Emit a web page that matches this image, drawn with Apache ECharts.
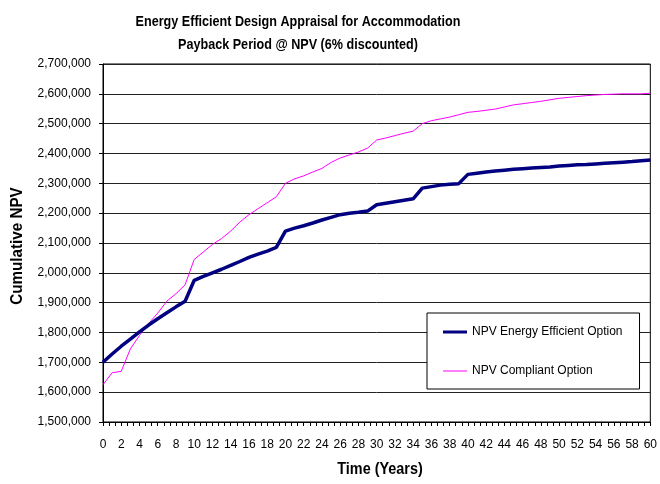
<!DOCTYPE html>
<html>
<head>
<meta charset="utf-8">
<script src="https://cdn.jsdelivr.net/npm/echarts@6/dist/echarts.min.js"></script>
<style>
	html, body { margin: 0; padding: 0; background: #fff; }
	#chart { width: 660px; height: 484px; }
</style>
</head>
<body>
<div id="chart"></div>
<script>
// years 0..60
var years = [];
for (let i = 0; i <= 60; i++) years.push(i);

// cumulative NPV, energy efficient option
var npvEfficient = [
	1700000, 1728000, 1754000, 1778000, 1802000, 1825000, 1846000, 1866000, 1886000, 1905000,
	1975000, 1988000, 2000000, 2012000, 2025000, 2038000, 2052000, 2063000, 2073000, 2085000,
	2140000, 2150000, 2158000, 2167000, 2177000, 2186000, 2195000, 2200000, 2203000, 2207000,
	2228000, 2233000, 2238000, 2243000, 2248000, 2284000, 2289000, 2294000, 2297000, 2299000,
	2330000, 2334000, 2338000, 2341000, 2344000, 2347000, 2349000, 2351000, 2353000, 2355000,
	2358000, 2360000, 2362000, 2363000, 2365000, 2367000, 2369000, 2371000, 2373000, 2376000,
	2378000
];

// cumulative NPV, compliant option
var npvCompliant = [
	1625000, 1665000, 1670000, 1745000, 1790000, 1830000, 1865000, 1905000, 1930000, 1960000,
	2045000, 2070000, 2095000, 2115000, 2140000, 2170000, 2195000, 2215000, 2235000, 2255000,
	2300000, 2315000, 2325000, 2338000, 2350000, 2370000, 2385000, 2395000, 2405000, 2418000,
	2445000, 2452000, 2460000, 2468000, 2475000, 2500000, 2510000, 2516000, 2522000, 2530000,
	2538000, 2541000, 2545000, 2549000, 2556000, 2563000, 2567000, 2571000, 2575000, 2580000,
	2585000, 2588000, 2591000, 2594000, 2596000, 2598000, 2599000, 2600000, 2600000, 2600000,
	2602000
];

var seriesNames = ['NPV Energy Efficient Option', 'NPV Compliant Option'];
var titleLines = ['Energy Efficient Design Appraisal for Accommodation', 'Payback Period @ NPV (6% discounted)'];

function pairs(vals) {
	let out = [];
	for (let i = 0; i < years.length; i++) out.push([years[i], vals[i]]);
	return out;
}

var plain = '"Liberation Sans", Arial, sans-serif';

let chartDom = document.getElementById('chart');
let myChart = echarts.init(chartDom);
let option = {
	backgroundColor: '#fff',
	animation: false,
	grid: {
		left: 103,
		right: 2,
		top: 64,
		bottom: 62,
		show: true,
		borderColor: '#000',
		borderWidth: 1
	},
	legend: {
		orient: 'vertical',
		left: 427,
		top: 313,
		data: [{
				name: seriesNames[0],
				icon: 'path://M0,0 L24,0 L24,3 L0,3 Z'
			},
			{
				name: seriesNames[1],
				icon: 'path://M0,0 L24,0 L24,1 L0,1 Z'
			}
		],
		itemWidth: 24,
		itemHeight: 14,
		itemGap: 27,
		padding: [13, 17, 12, 16],
		backgroundColor: '#fff',
		borderColor: '#000',
		borderWidth: 1,
		textStyle: {
			fontFamily: plain,
			fontSize: 12,
			color: '#000'
		}
	},
	xAxis: {
		type: 'value',
		min: 0,
		max: 60,
		interval: 2,
		axisLine: { lineStyle: { color: '#000', width: 1 } },
		axisTick: { show: true, inside: false, length: 4, lineStyle: { color: '#000' } },
		minorTick: { show: true, splitNumber: 3, length: 4, lineStyle: { color: '#000' } },
		axisLabel: {
			margin: 17,
			fontFamily: plain,
			fontSize: 12,
			color: '#000'
		},
		splitLine: { show: false }
	},
	yAxis: {
		type: 'value',
		min: 1500000,
		max: 2700000,
		interval: 100000,
		axisLine: { show: true, lineStyle: { color: '#000', width: 1 } },
		axisTick: { show: true, inside: false, length: 4, lineStyle: { color: '#000' } },
		axisLabel: {
			margin: 12,
			fontFamily: plain,
			fontSize: 12,
			color: '#000',
			formatter: function(v) {
				return v.toString().replace(/\B(?=(\d{3})+(?!\d))/g, ',');
			}
		},
		splitLine: { show: true, lineStyle: { color: '#222', width: 1 } }
	},
	graphic: [{
			// title, squeezed to look like the narrow bold face
			type: 'text',
			x: 298,
			y: 10,
			scaleX: 0.84,
			style: {
				text: titleLines.join('\n'),
				font: 'bold 15px ' + plain,
				lineHeight: 23,
				fill: '#000',
				align: 'center',
				verticalAlign: 'top'
			}
		},
		{
			type: 'text',
			x: 380,
			y: 470,
			scaleX: 0.9,
			style: {
				text: 'Time (Years)',
				font: 'bold 16px ' + plain,
				fill: '#000',
				align: 'center',
				verticalAlign: 'middle'
			}
		},
		{
			type: 'text',
			x: 18,
			y: 246,
			rotation: Math.PI / 2,
			scaleX: 0.95,
			style: {
				text: 'Cumulative NPV',
				font: 'bold 16px ' + plain,
				fill: '#000',
				align: 'center',
				verticalAlign: 'middle'
			}
		}
	],
	series: [{
			name: seriesNames[0],
			type: 'line',
			data: pairs(npvEfficient),
			symbol: 'none',
			lineStyle: { color: '#000080', width: 3.5 },
			itemStyle: { color: '#000080' },
			z: 3
		},
		{
			name: seriesNames[1],
			type: 'line',
			data: pairs(npvCompliant),
			symbol: 'none',
			lineStyle: { color: '#ff00ff', width: 1 },
			itemStyle: { color: '#ff00ff' },
			z: 2
		}
	]
};
option && myChart.setOption(option);
</script>
</body>
</html>
